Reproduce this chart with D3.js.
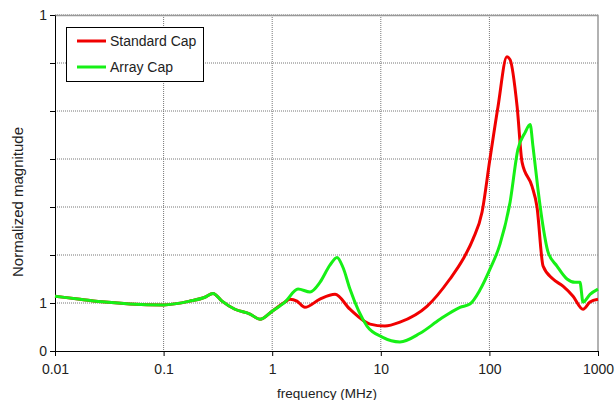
<!DOCTYPE html>
<html>
<head>
<meta charset="utf-8">
<script src="https://cdn.jsdelivr.net/npm/d3@7"></script>
<style>
  body { margin: 0; background: #fff; }
  text { font-family: "Liberation Sans", Arial, sans-serif; }
</style>
</head>
<body>
<div id="chart"></div>
<script>
var svgWidth = 615;
var svgHeight = 400;

var margin = { top: 15, right: 17, bottom: 49, left: 55 };
var width = svgWidth - margin.left - margin.right;
var height = svgHeight - margin.top - margin.bottom;

// frequency (MHz) shared by both curves below ~1.3 MHz
var commonFreq = [0.01, 0.017, 0.029, 0.049, 0.1, 0.175, 0.24, 0.285, 0.345, 0.454, 0.625, 0.772, 1.0, 1.31];
var commonMag  = [1.14, 1.08, 1.02, 0.98, 0.96, 1.04, 1.12, 1.20, 1.04, 0.87, 0.77, 0.66, 0.83, 1.02];

var stdFreq = [1.46, 1.69, 2.0, 2.75, 3.79, 5.2, 7.96, 10.9, 15.0, 26.6, 43.3, 57.1, 70.6, 85.5, 101, 120, 145, 155, 180, 200, 247, 274, 312, 385, 476, 589, 728, 844, 1000];
var stdMag  = [1.08, 1.04, 0.91, 1.08, 1.18, 0.87, 0.56, 0.52, 0.60, 0.93, 1.50, 1.91, 2.33, 2.89, 3.99, 5.09, 6.13, 6.07, 5.09, 3.93, 3.43, 3.01, 1.77, 1.50, 1.35, 1.14, 0.87, 1.02, 1.08];

var arrFreq = [1.73, 2.23, 2.75, 3.40, 3.95, 4.49, 5.20, 7.46, 10.3, 15.0, 23.0, 35.1, 53.6, 66.2, 81.8, 101, 125, 155, 183, 213, 237, 252, 280, 305, 347, 419, 518, 614, 682, 728, 844, 1000];
var arrMag  = [1.29, 1.23, 1.43, 1.79, 1.95, 1.74, 1.29, 0.52, 0.29, 0.19, 0.37, 0.66, 0.91, 0.98, 1.27, 1.70, 2.22, 3.10, 4.20, 4.55, 4.72, 4.26, 3.37, 2.74, 2.06, 1.77, 1.50, 1.43, 1.43, 1.02, 1.18, 1.29];

var xTicks = [0.01, 0.1, 1, 10, 100, 1000];
var xTickLabels = ["0.01", "0.1", "1", "10", "100", "1000"];
var yTicks = [0, 1, 2, 3, 4, 5, 6, 7];
var yTickLabels = ["0", "1", "", "", "", "", "", "1"];

var seriesNames = ["Standard Cap", "Array Cap"];
var seriesColors = ["#f00000", "#16f016"];

function zip(f, m) {
  return f.map(function(d, i) { return { f: d, v: m[i] }; });
}
var stdData = zip(commonFreq, commonMag).concat(zip(stdFreq, stdMag));
var arrData = zip(commonFreq, commonMag).concat(zip(arrFreq, arrMag));

var svg = d3.select("#chart")
  .append("svg")
  .attr("width", svgWidth)
  .attr("height", svgHeight);

var chartGroup = svg.append("g")
  .attr("transform", `translate(${margin.left}, ${margin.top})`);

var x = d3.scaleLog().domain([0.01, 1000]).range([0, width]);
var y = d3.scaleLinear().domain([0, 7]).range([height, 0]);

// grid
chartGroup.selectAll(".hgrid")
  .data(yTicks.slice(1))
  .enter()
  .append("line")
  .attr("x1", 0).attr("x2", width)
  .attr("y1", d => y(d)).attr("y2", d => y(d))
  .attr("stroke", "#777")
  .attr("stroke-width", 1)
  .attr("stroke-dasharray", "1,1");

chartGroup.selectAll(".vgrid")
  .data(xTicks.slice(1, -1))
  .enter()
  .append("line")
  .attr("x1", d => x(d)).attr("x2", d => x(d))
  .attr("y1", 0).attr("y2", height)
  .attr("stroke", "#777")
  .attr("stroke-width", 1)
  .attr("stroke-dasharray", "1,1");

// frame top/right
chartGroup.append("path")
  .attr("d", `M0,0.5H${width}V${height}`)
  .attr("fill", "none")
  .attr("stroke", "#999")
  .attr("stroke-width", 1.5);

// axes
var bottomAxis = d3.axisBottom(x)
  .tickValues(xTicks)
  .tickFormat((d, i) => xTickLabels[i])
  .tickSize(5)
  .tickSizeOuter(0);
var leftAxis = d3.axisLeft(y)
  .tickValues(yTicks)
  .tickFormat((d, i) => yTickLabels[i])
  .tickSize(5)
  .tickSizeOuter(0);

var gx = chartGroup.append("g")
  .attr("transform", `translate(0, ${height})`)
  .call(bottomAxis);
var gy = chartGroup.append("g")
  .call(leftAxis);

[gx, gy].forEach(function(g) {
  g.selectAll("path, line").attr("stroke", "#000");
  g.selectAll("text")
    .attr("fill", "#222")
    .style("font-size", "14px")
    .style("font-family", "'Liberation Sans', Arial, sans-serif");
});
gx.selectAll("text").attr("dy", "1.1em");
gy.selectAll("text").attr("x", -8);

// lines
var line = d3.line()
  .x(d => x(d.f))
  .y(d => y(d.v))
  .curve(d3.curveMonotoneX);

[stdData, arrData].forEach(function(data, i) {
  chartGroup.append("path")
    .datum(data)
    .attr("fill", "none")
    .attr("stroke", seriesColors[i])
    .attr("stroke-width", 3)
    .attr("stroke-linejoin", "round")
    .attr("d", line);
});

// axis titles
svg.append("text")
  .attr("transform", "translate(23, 202) rotate(-90)")
  .attr("text-anchor", "middle")
  .attr("fill", "#222")
  .style("font-size", "15px")
  .text("Normalized magnitude");

svg.append("text")
  .attr("x", 327)
  .attr("y", 398)
  .attr("text-anchor", "middle")
  .attr("fill", "#222")
  .style("font-size", "13.5px")
  .text("frequency (MHz)");

// legend
var legend = svg.append("g").attr("transform", "translate(66, 27)");
legend.append("rect")
  .attr("x", 0.5).attr("y", 0.5)
  .attr("width", 137).attr("height", 54)
  .attr("fill", "#fff")
  .attr("stroke", "#000")
  .attr("stroke-width", 1);

legend.selectAll(".item")
  .data(seriesNames)
  .enter()
  .append("g")
  .attr("transform", (d, i) => `translate(0, ${14 + i * 26})`)
  .each(function(d, i) {
    var g = d3.select(this);
    g.append("line")
      .attr("x1", 11).attr("x2", 40)
      .attr("y1", 0).attr("y2", 0)
      .attr("stroke", seriesColors[i])
      .attr("stroke-width", 3);
    g.append("text")
      .attr("x", 44)
      .attr("y", 5)
      .attr("fill", "#222")
      .style("font-size", "14px")
      .text(d);
  });
</script>
</body>
</html>
